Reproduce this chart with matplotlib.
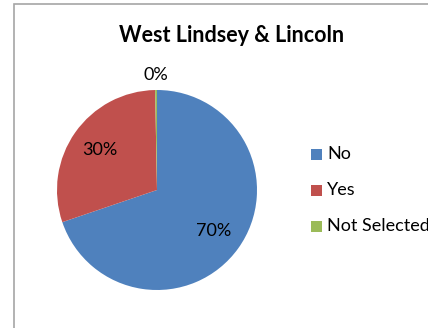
import numpy as np
import matplotlib
matplotlib.use("Agg")
import matplotlib.pyplot as plt
from matplotlib.patches import Rectangle

plt.rcParams['font.family'] = ['Lato', 'DejaVu Sans']

title = "West Lindsey & Lincoln"
categories = ["No", "Yes", "Not Selected"]
values = [70, 30, 0.3]
colors = ["#4F81BD", "#C0504D", "#9BBB59"]

W, H = 428, 328
fig = plt.figure(figsize=(W / 100, H / 100), dpi=100)

# chart area border, running off the right and bottom edges
fig.patches.append(Rectangle((14 / W, -0.1), 1.2, (H - 4) / H + 0.1,
                             transform=fig.transFigure, fill=False,
                             edgecolor="#A6A6A6", linewidth=1.2))

fig.text(232 / W, 1 - 35 / H, title, ha="center", va="center",
         fontsize=15.5, fontweight="bold", color="black")

# pie centred at (157, 190) px with a 100 px radius
cx, cy, r = 157, 190, 100
ax = fig.add_axes([(cx - r) / W, (H - cy - r) / H, 2 * r / W, 2 * r / H])
wedges, _ = ax.pie(values, colors=colors, startangle=90, counterclock=False,
                   wedgeprops=dict(linewidth=0))
ax.set_xlim(-1, 1)
ax.set_ylim(-1, 1)
ax.set_aspect("equal")
ax.axis("off")

total = sum(values)
for w, v in zip(wedges, values):
    share = v / total * 100
    mid = np.deg2rad((w.theta1 + w.theta2) / 2)
    dist = 0.7 if share >= 5 else 1.15
    ax.text(dist * np.cos(mid), dist * np.sin(mid), f"{share:.0f}%",
            ha="center", va="center", fontsize=13, color="black")

# legend
for i, (name, c) in enumerate(zip(categories, colors)):
    y = 154 + 36 * i
    fig.patches.append(Rectangle((311 / W, 1 - (y + 5.5) / H), 11 / W, 11 / H,
                                 transform=fig.transFigure, facecolor=c,
                                 edgecolor="none"))
    fig.text(327 / W, 1 - y / H, name, ha="left", va="center",
             fontsize=13, color="black")

fig.savefig("out.png", dpi=100, facecolor="white")
